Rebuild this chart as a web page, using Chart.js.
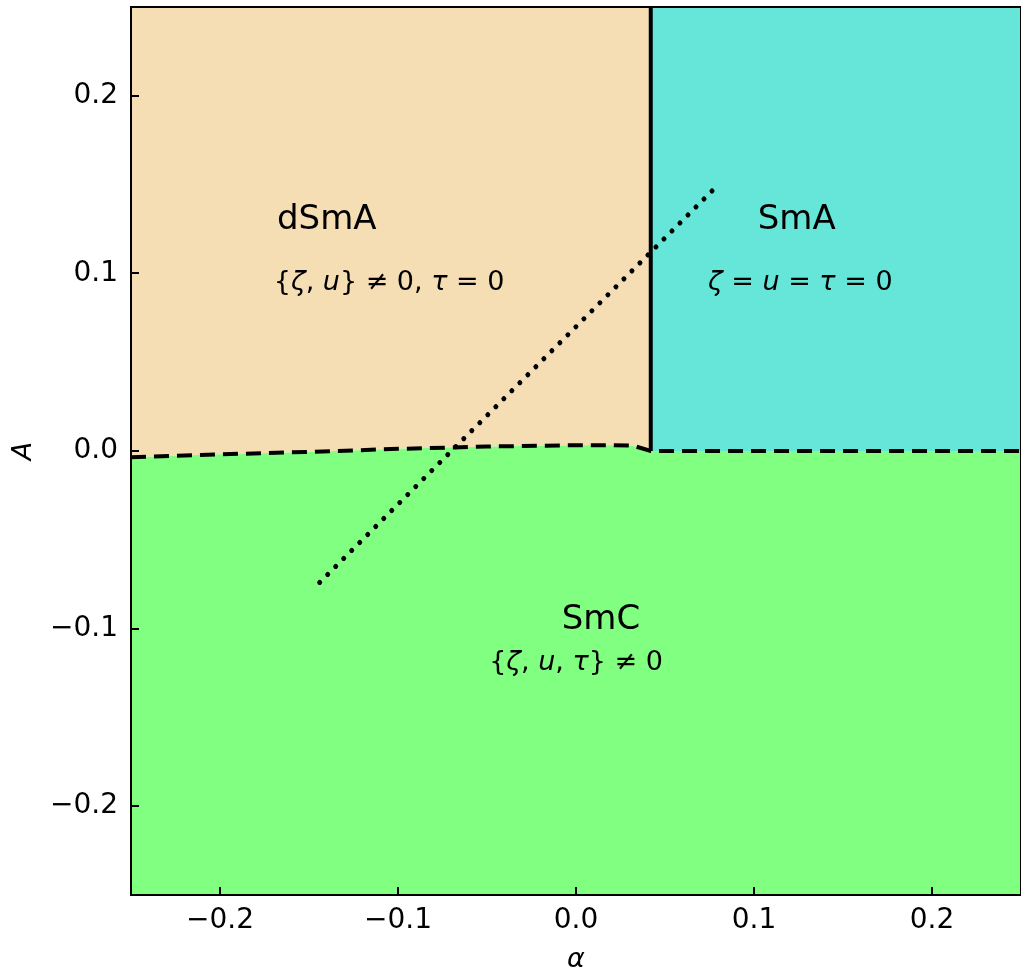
<!DOCTYPE html>
<html lang="en">
<head>
<meta charset="UTF-8"/>
<title>Phase diagram</title>
<script src="https://cdn.jsdelivr.net/npm/chart.js@4.4.1/dist/chart.umd.min.js"></script>
<style>
  body{margin:0;background:#fff}
  #box{width:1021px;height:976px;position:relative}
</style>
</head>
<body>
<div id="box"><canvas id="phase"></canvas></div>
<script>
// dSmA / SmC boundary (dashed, left part)
const curveAlpha = [-0.25, -0.2, -0.15, -0.1, -0.05, 0.0, 0.02, 0.032, 0.042];
const curveA = [-0.0035, -0.0019, -0.0005, 0.0012, 0.0025, 0.0033, 0.0033, 0.003, 0.0];
// SmA / SmC boundary (dashed, right part)
const flatAlpha = [0.042, 0.25];
const flatA = [0.0, 0.0];
// dSmA / SmA boundary (solid)
const wallAlpha = [0.042, 0.042];
const wallA = [0.0, 0.25];
// dotted path across the diagram
const pathAlpha = [-0.144, 0.077];
const pathA = [-0.074, 0.147];

const tickValues = [-0.2, -0.1, 0.0, 0.1, 0.2];

// phase names and the conditions under them
const phaseNames = ['dSmA', 'SmA', 'SmC'];
const nameAlpha = [-0.14, 0.124, 0.014];
const nameA = [0.130, 0.130, -0.095];
const condAlpha = [-0.105, 0.126, 0.0];
const condA = [0.0946, 0.0946, -0.1194];
// [text, italic]
const conditions = [
  [['{', 0], ['ζ', 1], [', ', 0], ['u', 1], ['} ≠ 0, ', 0], ['τ', 1], [' = 0', 0]],
  [['ζ', 1], [' = ', 0], ['u', 1], [' = ', 0], ['τ', 1], [' = 0', 0]],
  [['{', 0], ['ζ', 1], [', ', 0], ['u', 1], [', ', 0], ['τ', 1], ['} ≠ 0', 0]]
];

const pts = (xs, ys) => xs.map((x, i) => ({x: x, y: ys[i]}));
const fmt = v => (v < 0 ? '\u2212' : '') + Math.abs(v).toFixed(1);
const FONT = '"DejaVu Sans", sans-serif';

const lowerEdge = pts(curveAlpha, curveA).concat(pts(flatAlpha, flatA));

function drawRuns(ctx, runs, cx, cy, size) {
  const widths = runs.map(r => {
    ctx.font = (r[1] ? 'italic ' : '') + size + 'px ' + FONT;
    return ctx.measureText(r[0]).width;
  });
  let x = cx - widths.reduce((a, b) => a + b, 0) / 2;
  ctx.textAlign = 'left';
  runs.forEach((r, i) => {
    ctx.font = (r[1] ? 'italic ' : '') + size + 'px ' + FONT;
    ctx.fillText(r[0], x, cy);
    x += widths[i];
  });
}

const frameAndText = {
  id: 'frameAndText',
  afterDraw(chart) {
    const {ctx, chartArea: ca, scales: {x, y}} = chart;
    ctx.save();
    ctx.fillStyle = '#000';
    ctx.textBaseline = 'middle';
    phaseNames.forEach((n, i) => {
      ctx.font = '34px ' + FONT;
      ctx.textAlign = 'center';
      ctx.fillText(n, x.getPixelForValue(nameAlpha[i]), y.getPixelForValue(nameA[i]));
      drawRuns(ctx, conditions[i], x.getPixelForValue(condAlpha[i]), y.getPixelForValue(condA[i]), 27);
    });
    // axes frame
    ctx.strokeStyle = '#000';
    ctx.lineWidth = 2;
    ctx.strokeRect(ca.left, ca.top, ca.right - ca.left, ca.bottom - ca.top);
    // inward ticks
    ctx.beginPath();
    tickValues.forEach(v => {
      const px = Math.round(x.getPixelForValue(v));
      ctx.moveTo(px, ca.bottom);
      ctx.lineTo(px, ca.bottom - 8);
      const py = Math.round(y.getPixelForValue(v));
      ctx.moveTo(ca.left, py);
      ctx.lineTo(ca.left + 8, py);
    });
    ctx.stroke();
    ctx.restore();
  }
};

const noPad = s => { s.paddingTop = 0; s.paddingBottom = 0; s.paddingLeft = 0; s.paddingRight = 0; };

new Chart(document.getElementById('phase'), {
  type: 'scatter',
  data: {
    datasets: [
      {data: pts(curveAlpha, curveA), showLine: true, fill: 'end', backgroundColor: '#F5DEB3',
       borderWidth: 0, pointRadius: 0, order: 6},
      {data: pts(flatAlpha, flatA), showLine: true, fill: 'end', backgroundColor: '#66E6D9',
       borderWidth: 0, pointRadius: 0, order: 5},
      {data: lowerEdge, showLine: true, fill: 'start', backgroundColor: '#80FF80',
       borderWidth: 0, pointRadius: 0, order: 4},
      {data: lowerEdge, showLine: true, fill: false, borderColor: '#000', borderWidth: 4,
       borderDash: [15, 8], pointRadius: 0, order: 2},
      {data: pts(wallAlpha, wallA), showLine: true, fill: false, borderColor: '#000', borderWidth: 4,
       pointRadius: 0, order: 1},
      {data: pts(pathAlpha, pathA), showLine: true, fill: false, borderColor: '#000', borderWidth: 5,
       borderDash: [0.01, 11.3], borderCapStyle: 'round', pointRadius: 0, order: 1}
    ]
  },
  options: {
    responsive: true,
    maintainAspectRatio: false,
    animation: false,
    events: [],
    layout: {padding: {top: 7, left: 0, right: 0, bottom: 0}},
    plugins: {legend: {display: false}, tooltip: {enabled: false}},
    scales: {
      x: {
        type: 'linear', min: -0.25, max: 0.25,
        afterBuildTicks: s => { s.ticks = tickValues.map(v => ({value: v})); },
        afterFit: s => { s.height = 81; noPad(s); },
        grid: {display: false, drawTicks: false}, border: {display: false},
        ticks: {callback: fmt, color: '#000', padding: 9, maxRotation: 0, font: {family: FONT, size: 28}},
        title: {display: true, text: 'α', color: '#000', padding: {top: 0, bottom: 0},
                font: {family: FONT, size: 27, style: 'italic'}}
      },
      y: {
        type: 'linear', min: -0.25, max: 0.25,
        afterBuildTicks: s => { s.ticks = tickValues.map(v => ({value: v})); },
        afterFit: s => { s.width = 131; noPad(s); },
        grid: {display: false, drawTicks: false}, border: {display: false},
        ticks: {callback: fmt, color: '#000', padding: 13, font: {family: FONT, size: 28}},
        title: {display: true, text: 'A', color: '#000', padding: {top: 8, bottom: 0},
                font: {family: FONT, size: 27, style: 'italic'}}
      }
    }
  },
  plugins: [frameAndText]
});
</script>
</body>
</html>
